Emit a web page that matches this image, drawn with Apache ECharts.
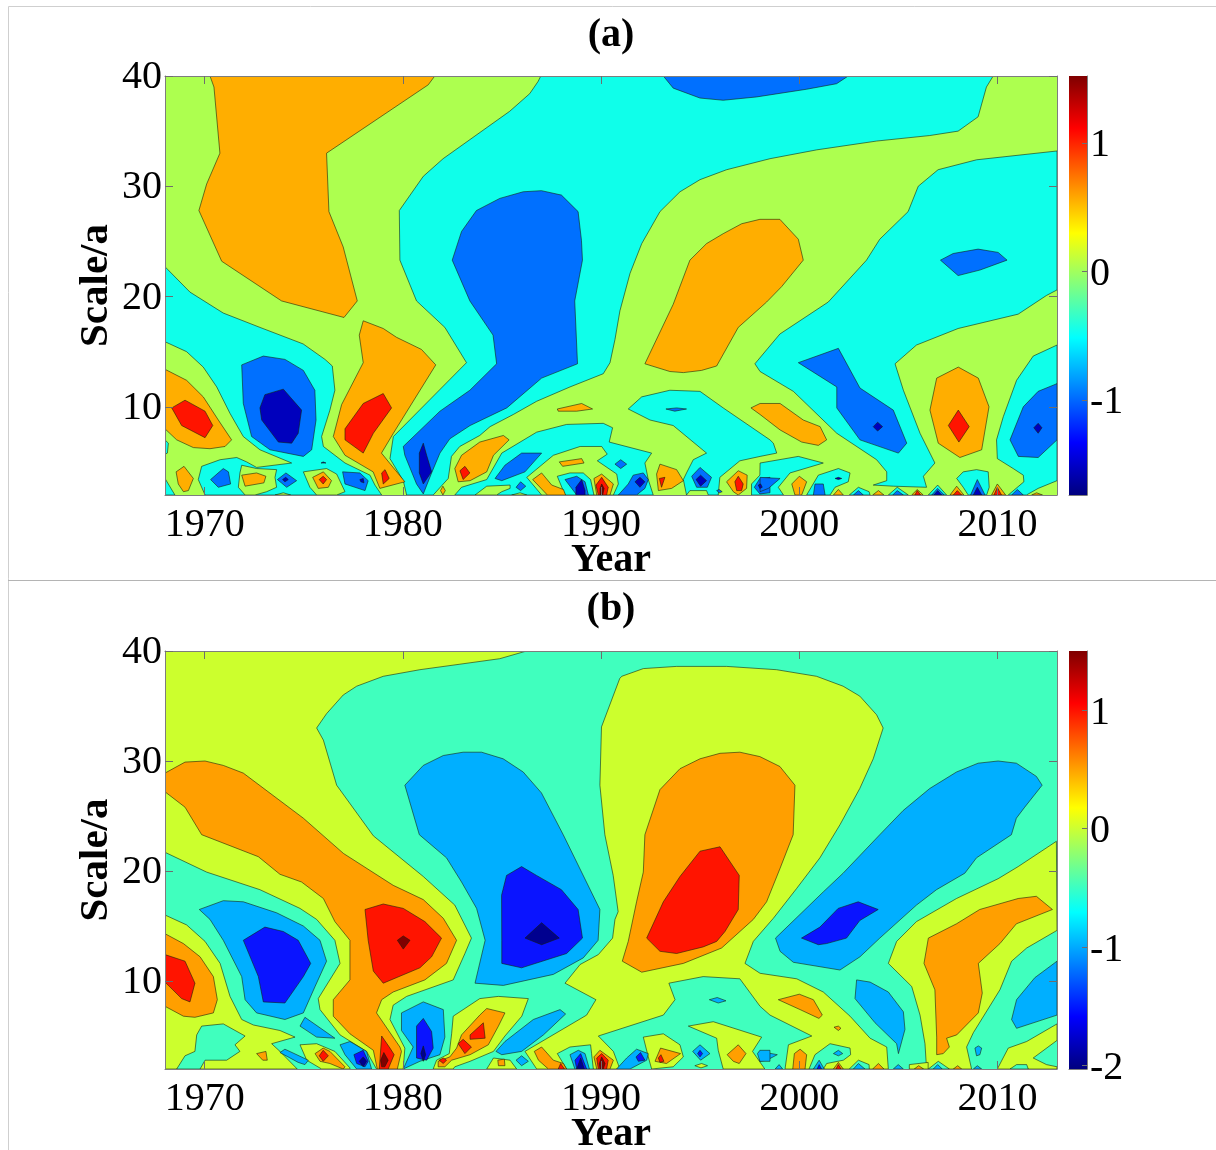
<!DOCTYPE html>
<html><head><meta charset="utf-8">
<style>html,body{margin:0;padding:0;background:#fff}#c{width:1216px;height:1150px}</style>
<script src="https://cdn.jsdelivr.net/npm/echarts@6/dist/echarts.min.js"></script>
</head><body><div id="c"></div>
<script>
// Axis facts
const yearRange = [1968, 2013];
const scaleRange = [2, 40];
const yearTicks = [1970, 1980, 1990, 2000, 2010];
const scaleTicks = [10, 20, 30, 40];
const barRangeA = [-1.74, 1.52];
const barRangeB = [-2.03, 1.5];
const barTicksA = [-1, 0, 1];
const barTicksB = [-2, -1, 0, 1];
const jetStops = [[0,'#00007f'],[0.125,'#0000ff'],[0.375,'#00ffff'],[0.625,'#ffff00'],[0.875,'#ff0000'],[1,'#7f0000']];
const frameBox = [[1968,2],[2013,2],[2013,40],[1968,40]];

// Panel (a): contour regions as [year, scale] vertices, painted back to front
const aCyan = [
[[1986.96,40],[2009.78,40],[2009.44,39],[2009.02,36.3],[2008.01,35],[2006.58,34.6],[2003.9,34.1],[2000.87,33.3],[1998.52,32.5],[1996.33,31.5],[1994.99,30.6],[1993.98,29.5],[1992.97,27.7],[1992.05,24.8],[1991.46,22.1],[1990.95,18.7],[1990.7,16.1],[1990.45,14],[1990.11,13],[1988.43,11.8],[1986.75,10.5],[1985.57,9.3],[1984.4,8.2],[1983.88,7.4],[1982.87,6.4],[1982.45,5.5],[1982.29,3.5],[1981.53,2],[1980.19,2],[1980.02,3.3],[1979.35,5.3],[1979.52,7.3],[1983.21,14],[1982.12,17.2],[1980.69,19.6],[1979.85,23.3],[1979.82,27.8],[1981.03,30.9],[1982.03,32.5],[1985.39,36.8],[1986.4,38.4],[1986.82,39.5]],
[[2013,33.2],[2008.94,32.4],[2007,31.5],[2006,30],[2005.49,27.7],[2004.06,25.2],[2003.39,23.3],[2001.46,19.5],[1999.02,16.6],[1997.76,13.9],[1998.02,13.2],[1999.7,11.4],[2001.89,7.6],[2003.9,5.2],[2004.41,4.1],[2004.41,3.3],[2003.73,2.9],[2004.74,2.8],[2006.42,2.7],[2006.26,3.7],[2006.84,4.9],[2006.09,7.6],[2005.25,11.5],[2004.83,13.9],[2005.91,15.6],[2008.01,17.1],[2011.04,18.4],[2012.47,20.1],[2013,20.6]],
[[2013,15.6],[2011.8,14.6],[2010.96,12.4],[2010.29,9.1],[2009.95,7],[2009.99,5.3],[2010.79,4.4],[2011.3,3.8],[2011.33,3.2],[2010.54,2],[2011.46,2],[2012.05,2.6],[2013,3.3]],
[[1968,22.7],[1969.26,20.4],[1970.94,18.5],[1972.79,17.2],[1974.97,15.7],[1976.07,14.3],[1976.44,13.7],[1976.57,11.5],[1976.32,9.7],[1975.9,7.3],[1975.99,6.4],[1977.08,4.9],[1978.34,3.8],[1978.59,2.9],[1978.93,2],[1970.02,2],[1969.68,3.4],[1969.85,4.6],[1970.78,5.2],[1971.62,5.4],[1972.12,5],[1972.62,4.5],[1974.39,4.9],[1972.79,6.1],[1971.95,7.3],[1971.28,9.4],[1970.61,11.8],[1969.93,13.6],[1969.09,15],[1968,15.9]],
[[1968,3.5],[1968.5,2],[1968,2]],
[[1968,7],[1968.17,6.7],[1968.12,5.8],[1968,5.7]],
[[1982.62,2],[1982.96,2.7],[1984.23,3.4],[1984.99,5.8],[1986.75,7.7],[1988.26,8.4],[1990.11,8.5],[1990.58,8.1],[1990.41,6.8],[1992.55,5.8],[1992.21,4.9],[1992.38,3.4],[1992.63,2]],
[[1991.37,9.8],[1992.05,10.9],[1993.47,11.5],[1994.99,11.4],[1996.16,9.9],[1998.52,7],[1998.69,6.7],[1998.86,5.8],[1998.02,5.5],[1997,5.1],[1995.99,3.6],[1995.91,2],[1995.41,2],[1995.32,2.4],[1994.48,2.4],[1994.31,2],[1994.15,3.4],[1994.31,4],[1994.65,5.2],[1995.32,5.8],[1993.64,8.3],[1992.47,8.8]],
[[1997.59,3],[1998.01,3.8],[1998.02,4.9],[1999.95,5.5],[2001.21,4.9],[1999.53,4],[1998.94,2.7],[1999.2,2],[1997.59,2]],
[[2000.37,2],[2000.96,3.8],[2001.97,4.4],[2002.56,4],[2002.47,3.2],[2001.8,2.7],[2001.55,2]]
];
const aGreenIslands = [
[[1971.87,4.7],[1972.62,4.4],[1973.63,4.3],[1973.55,3.6],[1973.63,2.7],[1973.13,2.3],[1972.54,2],[1972.04,2],[1971.7,2.7],[1971.78,4]],
[[1973.55,2],[1973.97,2.2],[1974.34,2]],
[[1974.98,4.1],[1976.15,4.4],[1976.66,3.9],[1977.08,2.3],[1976.66,2],[1975.65,2],[1975.31,2.7]],
[[1986.25,3.6],[1987.59,5.6],[1988.94,6.4],[1990.03,6.4],[1990.31,5.7],[1989.81,5.1],[1990.79,3.9],[1990.87,3],[1990.62,2],[1987,2]],
[[1983.64,2],[1984.23,2.8],[1985.41,2.9],[1985.41,2.6],[1984.99,2.3],[1984.73,2]],
[[1985.49,2],[1985.91,2.2],[1986.25,2]]
];
const aCyanPatches = [
[[1987.79,3.7],[1988.43,4],[1989.1,4],[1989.47,3.4],[1989.64,2],[1988.18,2]],
[[2002.52,2],[2002.98,2.7],[2003.52,2.3],[2003.57,2]],
[[2004.49,2],[2004.94,2.7],[2005.5,2]],
[[2006.51,2],[2006.98,2.9],[2007.43,2]],
[[2007.94,3.5],[2008.27,4.1],[2008.94,4.3],[2009.53,4.1],[2009.58,2.7],[2009.45,2],[2008.52,2],[2008.27,2.7]]
];
const aOrange = [
[[1970.27,40],[1970.47,39],[1970.77,33],[1970.1,30.2],[1969.71,27.8],[1970.86,23.2],[1973.88,19.6],[1977.03,18.1],[1977.7,19.6],[1976.99,24.5],[1976.27,27.7],[1976.15,33],[1981.28,39.2],[1981.61,40]],
[[1968,13.4],[1969.09,12.4],[1969.93,10.9],[1970.69,8.8],[1971.36,7],[1971.03,6.4],[1970.27,6.2],[1969.43,6.3],[1968.59,7],[1968,8]],
[[1968.56,4.1],[1968.96,4.6],[1969.43,3.5],[1969.18,2.4],[1968.93,2.3],[1968.67,3]],
[[1971.87,3.8],[1972.62,4],[1973.09,3.7],[1972.99,3.1],[1972.04,2.8]],
[[1975.45,3.6],[1975.99,4.1],[1976.4,3.3],[1976.24,2.7],[1975.73,2.6]],
[[1981.9,2.4],[1982.02,2.8],[1982.14,2.4],[1982.02,2]],
[[1978,17.8],[1979.01,17.1],[1979.68,16.3],[1980.94,15.2],[1981.66,13.8],[1979.52,7.6],[1978.92,5.8],[1980.1,3.2],[1978.84,2.6],[1978.5,4.1],[1977.08,5.6],[1976.49,7.3],[1976.91,10.2],[1978,14],[1977.8,16.5]],
[[1982.62,4.4],[1982.96,5.6],[1983.88,6.8],[1985.07,7.4],[1985.36,7],[1984.57,5.6],[1984.23,4.1],[1983.39,3.3],[1982.79,3.2]],
[[1987.79,9.8],[1989.02,10.3],[1989.57,9.8],[1988.77,9.6],[1987.84,9.6]],
[[1987.89,5],[1989.02,5.3],[1989.14,4.9],[1988.06,4.6]],
[[1986.55,3.4],[1987,4],[1987.51,2.9],[1988.1,2.5],[1988.21,2],[1987.29,2]],
[[1989.64,3.5],[1990.03,3.9],[1990.62,3],[1990.45,2],[1989.78,2]],
[[1992.8,3.9],[1992.97,4.8],[1993.81,4.3],[1994.15,3.3],[1993.56,2.6],[1992.89,2.4]],
[[1996.33,3.2],[1996.92,4.2],[1997.37,3.8],[1997.34,2.6],[1996.92,2],[1996.67,2.3]],
[[1997.56,9.9],[1998.02,10.3],[1999.03,10.3],[2000.2,8.8],[2001.05,8.2],[2001.38,7],[2000.96,6.5],[2000.12,6.8],[1999.03,7.9],[1998.02,9.3]],
[[1992.21,13.9],[1993.64,19.3],[1994.48,23.3],[1995.32,24.8],[1996.16,25.7],[1997.09,26.6],[1998.01,27],[1999.02,27],[1999.95,25.2],[2000.2,23.3],[1999.11,20.9],[1998.35,19.5],[1996.92,17.2],[1995.83,13.7],[1995.07,13.3],[1994.15,13.1],[1993.47,13.2]],
[[1999.62,3],[2000,3.7],[2000.37,3.2],[2000.12,2],[1999.78,2]],
[[2001.72,2],[2001.97,2.5],[2002.22,2]],
[[2003.7,2],[2003.99,2.4],[2004.27,2]],
[[2005.67,2],[2005.95,2.5],[2006.25,2]],
[[2007.6,2],[2007.94,2.8],[2008.3,2]],
[[2009.7,2],[2009.99,3],[2010.41,2]],
[[2011.72,2],[2011.97,2.2],[2012.27,2]],
[[2006.59,9.7],[2006.93,12.6],[2008.02,13.6],[2009.03,12.6],[2009.57,10],[2009.2,6.1],[2008.1,5.4],[2007.01,6.7]]
];
const aRed = [
[[1968.34,9.9],[1969.01,10.6],[1970.02,9.6],[1970.41,8.3],[1970.02,7.2],[1968.84,8.3]],
[[1977.08,8],[1978,10.3],[1979.01,11.2],[1979.43,9.9],[1978.51,7.6],[1978,5.8],[1977.08,7]],
[[1978.93,4],[1979.1,4.3],[1979.31,3.5],[1979.01,3]],
[[1982.88,4.2],[1983.13,4.6],[1983.38,4],[1983.04,3.4]],
[[1989.74,2.9],[1990.03,3.6],[1990.36,2.7],[1990.28,2],[1989.86,2]],
[[1992.94,3.5],[1993.22,3.6],[1993.05,2.7]],
[[1996.75,3.2],[1996.92,3.7],[1997.17,3],[1997.09,2.4],[1996.84,2.4]],
[[2007.52,8.3],[2008.02,9.7],[2008.57,8.2],[2008.05,6.8]],
[[2005.83,2],[2005.95,2.4],[2006.12,2]],
[[2007.77,2],[2007.97,2.4],[2008.19,2]],
[[2009.82,2],[2009.99,2.7],[2010.2,2]],
[[1975.78,3.4],[1975.98,3.7],[1976.15,3.4],[1975.98,3]]
];
const aDarkRed = [
[[1989.95,2.6],[1990.03,3],[1990.15,2.6],[1990.08,2],[1989.95,2]]
];
const aBlue = [
[[1971.87,13.8],[1972.96,14.6],[1974.05,14.3],[1974.98,13.3],[1975.56,11.5],[1975.62,8.8],[1975.4,6.1],[1974.98,5.5],[1973.3,6.1],[1972.37,7.3],[1971.95,10.3]],
[[1982.49,23.3],[1982.96,25.9],[1983.71,27.8],[1984.89,28.9],[1986.07,29.5],[1986.99,29.6],[1988,29.2],[1988.84,27.7],[1989.01,25.1],[1989.06,23.3],[1988.67,19.6],[1988.81,13.9],[1987,12.6],[1985.24,9.9],[1983.39,8.3],[1982.37,7.1],[1981.87,5.8],[1981.45,4],[1981.03,2.1],[1980.69,3],[1980.1,5.6],[1980.02,6.4],[1981.87,9.6],[1983.38,11.5],[1984.73,13.9],[1984.55,16.5],[1983.38,19.6]],
[[1970.3,3.4],[1970.94,4.4],[1971.2,4.1],[1971.31,3],[1970.69,2.7]],
[[1973.67,3.4],[1974.1,4],[1974.64,3.3],[1974.14,2.7]],
[[1976.96,4.1],[1977.83,4],[1978.25,3.3],[1978.09,2.4],[1977.08,3]],
[[1984.65,3.5],[1985.15,4.7],[1985.99,5.8],[1987,5.8],[1986.16,4.1],[1984.99,3.3]],
[[1985.71,2.7],[1985.94,3.2],[1986.2,2.8],[1985.94,2.4]],
[[1990.7,4.8],[1990.99,5.2],[1991.29,4.8],[1990.99,4.4]],
[[1988.18,3.4],[1988.77,3.7],[1989.19,3.2],[1989.36,2],[1988.77,2]],
[[1990.87,2],[1991.37,3],[1991.62,3.8],[1992.13,4],[1992.38,3.4],[1992.21,2.6],[1991.79,2]],
[[1994.57,3.7],[1994.99,4.5],[1995.57,3.6],[1995.36,2.7],[1994.82,2.7]],
[[1993.27,9.8],[1993.81,9.9],[1994.31,9.8],[1993.72,9.6]],
[[1995.83,2.4],[1995.96,2.5],[1996.11,2.3],[1995.96,2.2]],
[[1997.73,2.7],[1998.01,3.5],[1998.52,3.6],[1998.52,2.2],[1998.01,2.1]],
[[1998.02,3.6],[1999.03,3.5],[1998.44,2.6],[1998.02,2.3]],
[[1999.95,14],[2001.97,15.3],[2003.06,11.7],[2004.74,9.7],[2005.42,6.7],[2005,5.8],[2003.06,7],[2001.89,9.9],[2001.89,11.8]],
[[2000.71,2],[2000.79,3],[2001.21,3],[2001.3,2]],
[[2002.73,2],[2002.98,2.4],[2003.23,2]],
[[2004.71,2],[2004.94,2.4],[2005.25,2]],
[[2006.68,2],[2006.98,2.6],[2007.31,2]],
[[2008.64,2],[2008.98,3.4],[2009.37,2]],
[[2010.71,2],[2011,2.5],[2011.3,2]],
[[2010.63,7],[2011.3,10],[2012.05,11.4],[2013,12.1],[2013,7],[2012.05,5.4],[2011.05,5.5]],
[[1993.14,40],[1993.64,38.9],[1994.99,38],[1996.16,37.8],[1997.84,38.1],[2000.37,38.8],[2001.88,39.3],[2002.47,40]],
[[2007.12,23.3],[2007.76,23.9],[2009.02,24.3],[2010.03,24],[2010.48,23.3],[2009.11,22.4],[2008.01,21.9]]
];
const aDarkBlue = [
[[1972.79,9.9],[1973.04,11.1],[1973.97,11.6],[1974.89,9.7],[1974.72,7.6],[1974.39,6.7],[1973.72,6.8],[1972.88,8.8]],
[[1981.03,6.7],[1981.2,5.6],[1981.45,4.1],[1981.03,3],[1980.83,4],[1980.83,5.8]],
[[1975.87,4.9],[1975.98,5],[1976.12,4.9]],
[[1973.93,3.4],[1974.09,3.6],[1974.22,3.4],[1974.05,3.2]],
[[1977.83,3.4],[1978,3.5],[1978.04,3.1],[1977.88,3.2]],
[[1988.73,2.7],[1989.02,3.4],[1989.19,2.4],[1989.19,2],[1988.73,2]],
[[1991.71,3.2],[1991.96,3.6],[1992.21,3.2],[1991.96,2.7]],
[[1994.79,3.4],[1995.02,3.8],[1995.32,3.3],[1995.02,2.8]],
[[1997.93,2.9],[1998.05,3],[1998.13,2.7],[1998.01,2.6]],
[[2003.73,8.2],[2003.95,8.6],[2004.2,8.2],[2003.95,7.8]],
[[2011.83,8.1],[2012.05,8.5],[2012.24,8.1],[2012.05,7.6]],
[[2001.8,3.5],[2001.97,3.6],[2002.14,3.5],[2001.97,3.4]],
[[2008.78,2],[2008.98,2.7],[2009.2,2]],
[[2006.79,2],[2006.98,2.4],[2007.18,2]]
];

// Panel (b)
const bYellow = [
[[1968,40],[1986.24,40],[1984.89,39.3],[1982.88,38.8],[1980.86,38.3],[1979.01,37.7],[1977.67,36.8],[1976.99,36],[1976.15,34.3],[1975.65,33],[1975.99,31.9],[1976.66,27.8],[1978.51,23.2],[1981.03,19.5],[1982.62,16.9],[1983.46,13.9],[1983.13,12.5],[1982.54,10.1],[1980.19,8.6],[1979.51,7.8],[1979.35,6.5],[1980.1,3.9],[1980.02,2],[1978.67,2],[1978.17,3.6],[1976.83,5.1],[1975.82,7.4],[1975.73,8.4],[1976.83,11.6],[1976.57,13.7],[1975.65,15.6],[1974.81,16.6],[1972.79,18.3],[1970.1,19.9],[1968,21.7]],
[[1968,16],[1969.09,15.1],[1970.02,13.6],[1970.78,11.6],[1971.28,8.6],[1971.87,6.5],[1972.46,6],[1973.8,5.5],[1974.56,4.9],[1973.38,4.3],[1973.8,3.6],[1974.67,2],[1968,2]],
[[1974.81,4.2],[1975.65,4.3],[1976.57,3.6],[1977.33,2.1],[1977.33,2],[1975.9,2],[1975.15,2.8]],
[[1981.53,2],[1981.7,2.8],[1982.34,3.4],[1982.46,5.2],[1982.54,6.8],[1983.88,8.4],[1984.82,8.6],[1986.33,8.4],[1986,6.8],[1985.15,5],[1984.57,3.6],[1983.39,2.7],[1982.62,2.2],[1982.54,2]],
[[1991.04,37.7],[1992.13,38.4],[1993.81,38.6],[1996.33,38.6],[1998.85,38.3],[2000.87,37.7],[2002.21,36.8],[2003.05,35.9],[2003.9,34.2],[2004.23,33],[2003.73,30.2],[2003.05,27.5],[2002.05,24.2],[2001.04,21.2],[1999.86,18.4],[1998.69,15.7],[1997.68,13.6],[1997.26,11.6],[1998.02,10.7],[1999.87,10.2],[2001.21,9],[2002.56,6.8],[2003.57,4.8],[2004.41,4],[2004.49,2],[1999.28,2],[1999.45,4.2],[2000.63,5],[1998.52,6.9],[1998.02,7.7],[1997,10.2],[1995.15,10.4],[1993.42,9.8],[1993.73,8.3],[1993.14,6.9],[1989.86,5],[1990.62,3.6],[1990.95,2],[1986.75,2],[1986.16,3.6],[1989.27,6.9],[1989.74,8.3],[1988.18,9.8],[1988.94,11.5],[1989.86,12.4],[1990.58,13.9],[1990.7,15.6],[1990.86,16.3],[1990.61,19.6],[1990.19,23.3],[1989.94,27.8],[1990.02,33.1],[1990.94,37.5]],
[[2004.49,11.6],[2004.91,13.6],[2005.91,15.4],[2007.93,17.5],[2010.03,19.3],[2011.04,20.4],[2012.97,22.7],[2013,14.6],[2011.47,13],[2010.71,11.8],[2010.12,9.2],[2008.78,5.3],[2008.44,4],[2008.69,2],[2006.42,2],[2006.34,4.3],[2006.09,6.9],[2005.67,9.5]],
[[2009.99,2],[2010.54,3.9],[2011.47,4.5],[2013,6.1],[2013,4.6],[2011.8,3],[2012.47,2.4],[2013,2.2],[2013,2]],
[[1992.13,4.9],[1993.14,5.2],[1993.98,4.2],[1994.15,3.1],[1993.64,2.2],[1992.55,2],[1992.38,3.1]],
[[1994.4,5.9],[1995.66,6.3],[1998.1,4.9],[1997.64,3.6],[1998.26,2],[1996.16,2],[1995.91,3.7],[1995.83,4.8]],
[[1994.73,2.3],[1995.07,2.5],[1995.37,2.3],[1995.04,2.1]],
[[1984.23,2],[1984.57,3],[1985.41,2.8],[1985.74,2]],
[[2005.55,2],[2005.55,2.4],[2006.5,2.6],[2006.5,2]]
];
const bTealPatches = [
[[1968.59,2],[1969.01,3.2],[1969.51,3.6],[1969.6,5.1],[1969.85,5.9],[1970.94,6.1],[1972.04,5],[1971.53,4.2],[1971.78,3.6],[1971.11,2.8],[1970.02,2.8],[1969.77,2]],
[[2010.63,2],[2010.96,2.4],[2011.47,2.4],[2011.55,2]],
[[2000.49,2],[2000.79,3.3],[2001.55,4.3],[2002.56,3.9],[2002.59,3.3],[2002.22,2.8],[2001.38,2.5],[2001.21,2]],
[[2002.52,2],[2002.98,2.8],[2003.52,2.4],[2003.53,2]],
[[2006.51,2],[2007.01,2.7],[2007.57,2]],
[[1987.79,3.4],[1988.43,4],[1989.47,4.2],[1989.52,3.4],[1989.61,2],[1988.26,2]]
];
const bSky = [
[[1969.73,16.5],[1970.94,17.3],[1971.95,17.2],[1973.63,16.2],[1974.98,15],[1975.82,13.7],[1976.15,11.8],[1975.57,9.5],[1974.98,7.1],[1974.05,6.5],[1972.62,7.1],[1972.04,8.3],[1971.87,10.4],[1970.94,13.7],[1970.27,15.6]],
[[1974.81,5.9],[1975.06,6.7],[1976.57,4.8],[1975.65,4.9]],
[[1973.8,3.5],[1974.05,3.8],[1975.23,2.8],[1975.06,2.4],[1974.72,2.6]],
[[1976.83,4.2],[1977.33,4.5],[1978.17,3.6],[1978.42,2],[1977.67,2],[1977.08,3.3]],
[[1979.93,7.1],[1981.03,8.1],[1982.04,7.4],[1982.12,4.9],[1981.87,3.3],[1980.86,2.7],[1980.02,2],[1980.52,4],[1979.93,5.5]],
[[1980.1,27.8],[1981.03,29.6],[1982.04,30.5],[1983.04,30.8],[1983.97,30.8],[1985.06,30.2],[1986.07,29],[1986.99,27.1],[1988.09,23.3],[1989.94,16.5],[1989.85,13.7],[1989.1,12.1],[1987.59,10.6],[1985.07,9.6],[1983.64,9.8],[1984.15,13.7],[1983.72,16.6],[1982.96,19],[1982.2,21.2],[1980.83,23.3]],
[[1998.8,13.9],[2001.21,18.1],[2002.21,19.8],[2004.06,23.3],[2005.24,25.5],[2006.58,27.5],[2007.93,29],[2009.02,29.8],[2010.03,30],[2010.95,29.8],[2011.96,28.6],[2012.25,27.8],[2011.37,25.8],[2010.95,24.8],[2010.7,23.3],[2008.94,21.2],[2008.35,19.8],[2006.92,18.3],[2005.91,16.9],[2004.06,13.9],[2003.06,12.2],[2002.05,11],[1999.7,11.7],[1999.03,12.7]],
[[2010.71,6.5],[2010.96,8.3],[2011.88,10.3],[2013,11.8],[2013,6.9],[2010.96,5.7]],
[[2002.81,8.4],[2002.89,10.1],[2003.57,9.9],[2004.49,9],[2005.25,7.2],[2005.33,5.6],[2005,3.4],[2004.91,4.3],[2003.82,6.2]],
[[2008.86,3.9],[2009.03,4.1],[2009.2,3.9],[2009.11,3.3],[2008.94,3.2]],
[[2001.72,3.4],[2001.97,3.7],[2002.19,3.4],[2001.97,3.2]],
[[1998.02,3.6],[1998.89,3.3],[1998.36,2.8],[1998.02,2.7]],
[[1998.78,2],[1998.98,2.4],[1999.16,2]],
[[2000.71,2],[2001,2.8],[2001.26,2]],
[[2002.73,2],[2002.98,2.5],[2003.31,2]],
[[2004.74,2],[2004.99,2.4],[2005.25,2]],
[[2006.76,2],[2006.98,2.4],[2007.21,2]],
[[2008.78,2],[2008.98,2.3],[2009.2,2]],
[[1988.43,3.3],[1988.85,3.7],[1989.19,3.4],[1989.41,2],[1988.68,2]],
[[1990.78,2],[1991.29,3],[1991.79,3.8],[1992.38,3.4],[1992.3,2.8],[1991.46,2]],
[[1994.62,3.6],[1994.99,4.2],[1995.49,3.4],[1995.02,2.8]],
[[1997.89,3.4],[1998.01,3.7],[1998.52,3.7],[1998.52,2.7],[1998.01,2.7]],
[[1995.46,8.3],[1995.86,8.5],[1996.3,8.2],[1995.91,8]],
[[1984.7,3.6],[1985.15,4.5],[1986.58,6.5],[1987.93,7.4],[1988.21,7],[1987.09,5.1],[1985.99,3.6],[1984.99,3.3]],
[[1985.71,2.8],[1985.99,3.2],[1986.33,2.7],[1985.99,2.3]]
];
const bOrange = [
[[1968,14.3],[1968.93,13.4],[1969.77,12.2],[1970.44,10.4],[1970.64,8.3],[1970.44,7.1],[1969.51,6.7],[1968.93,6.8],[1968,7.7]],
[[1968,28.9],[1969.01,29.9],[1970.02,30],[1970.94,29.6],[1971.95,28.9],[1974.98,24.8],[1977,21.6],[1979.51,18.7],[1981.03,17.4],[1982.04,15.7],[1982.71,13.7],[1982.2,11.6],[1981.11,10.1],[1979.51,9],[1978.93,8.3],[1978.67,7.1],[1979.85,4],[1979.93,3.6],[1979.72,2],[1978.71,2],[1978.51,3.7],[1977.33,5.2],[1976.49,6.8],[1976.49,8.3],[1977.33,10.1],[1977.33,13.7],[1976.57,15.4],[1975.99,17.5],[1974.89,19],[1973.8,19.7],[1972.71,21.3],[1969.85,23.3],[1969.01,25.8],[1968,27.2]],
[[1981.78,2.7],[1982.37,3.1],[1982.71,3.9],[1982.96,5.1],[1983.88,6.9],[1984.23,7.5],[1985.15,7.1],[1984.82,5.9],[1984.31,4.2],[1983.39,3.3],[1982.46,2.8],[1982.12,2.2],[1981.78,2.2]],
[[1972.62,3.4],[1973.09,3.6],[1973.16,2.8],[1972.93,2.8]],
[[1975.57,3.4],[1975.98,3.9],[1976.32,3.6],[1977.08,2.2],[1976.99,2],[1976.32,2.5],[1975.82,2.7]],
[[1992.21,23.3],[1992.97,27.4],[1993.98,29.3],[1994.99,30.2],[1996,30.7],[1997,30.8],[1998.01,30.4],[1999.02,29.5],[1999.78,27.8],[1999.69,23.3],[1999.02,20.2],[1998.35,17.2],[1997.68,15.6],[1996.08,13],[1994.15,11.6],[1992.05,10.8],[1991.07,11.8],[1991.37,13.6],[1991.79,17.2],[1992.13,19.9]],
[[2006.51,13.9],[2007.93,15.2],[2009.1,16.5],[2011.04,17.5],[2011.96,17.7],[2012.77,16.5],[2010.95,15.2],[2010.12,13.4],[2009.03,11.6],[2009.23,8.9],[2009.03,7.1],[2007.94,5.1],[2007.43,4.8],[2007.57,4],[2007.26,3.4],[2006.93,3.3],[2006.93,4.9],[2006.84,9.2],[2006.29,11.6]],
[[1998.94,8.3],[2000,8.8],[2000.71,8.3],[2001.16,6.9],[2000.99,6.6],[2000.04,7.4]],
[[2001.75,5.8],[2001.97,5.9],[2002.1,5.7],[2001.97,5.5]],
[[1999.67,2],[1999.75,3.4],[2000.04,3.8],[2000.37,3.3],[2000.29,2]],
[[2001.72,2],[2001.97,2.6],[2002.22,2]],
[[2003.7,2],[2003.99,2.5],[2004.27,2]],
[[2005.8,2],[2006.02,2.3],[2006.27,2]],
[[2007.77,2],[2007.99,2.3],[2008.19,2]],
[[1986.63,3.6],[1987,4],[1987.59,2.8],[1988.1,2.5],[1988.26,2],[1987.34,2],[1986.84,2.8]],
[[1989.64,3.1],[1989.94,3.7],[1990.62,2.8],[1990.45,2],[1989.78,2]],
[[1992.72,2.7],[1993,3.9],[1994.01,3.4],[1993.3,2.5]],
[[1996.36,3.3],[1996.92,4.2],[1997.31,3.4],[1996.97,2.5],[1996.67,2.7]],
[[1984.79,2.8],[1985.12,2.9],[1985.15,2.3],[1984.82,2.3]]
];
const bRed = [
[[1968,12.4],[1969.01,11.8],[1969.51,9.8],[1969.26,8.1],[1968.84,8.4],[1968,9.9]],
[[1978.09,16.5],[1979.01,17],[1980.02,16.6],[1981.11,15.4],[1981.95,13.9],[1981.45,12.2],[1980.86,11.2],[1979.01,9.8],[1978.51,10.9],[1978.25,13.7]],
[[1978.81,2],[1978.93,5],[1979.35,3.9],[1979.56,3.3],[1979.26,2]],
[[1983.39,5.1],[1984.06,6.2],[1984.15,4.8],[1983.39,4.7]],
[[1982.79,4.3],[1983.04,4.7],[1983.46,4],[1983.13,3.4]],
[[1981.83,2.8],[1982.04,3],[1982.2,2.8],[1982.04,2.5]],
[[1975.78,3.2],[1975.98,3.7],[1976.24,3.2],[1975.98,2.7]],
[[1993.98,19.5],[1994.99,21.8],[1996,22.2],[1996.97,19.6],[1996.92,16.5],[1996.25,14.5],[1995.83,13.6],[1995.15,13.1],[1993.81,12.5],[1992.97,12.7],[1992.3,13.9],[1993.14,17.2]],
[[2001.85,2],[2001.97,2.4],[2002.1,2]],
[[1987.84,2],[1987.96,2.5],[1988.15,2]],
[[1989.78,3],[1990.03,3.4],[1990.36,2.8],[1990.28,2],[1989.86,2]],
[[1992.89,3],[1993.02,3.3],[1993.17,2.7],[1992.97,2.6]]
];
const bDarkRed = [
[[1979.72,13.7],[1980.02,14.1],[1980.36,13.7],[1980.02,12.9]],
[[1978.88,2.8],[1979.04,3.5],[1979.26,2.8],[1979.09,2.2],[1978.93,2.2]],
[[1989.91,2.5],[1990.03,3.1],[1990.2,2.5],[1990.11,2],[1989.95,2]]
];
const bBlue = [
[[1971.95,13.7],[1973.04,14.9],[1973.97,14.5],[1974.72,13.7],[1975.35,11.6],[1974.98,10.4],[1974.05,8],[1972.96,8.1],[1972.71,10.4]],
[[1977.53,3.3],[1978,3.7],[1978.25,2.7],[1978.09,2.2],[1977.67,2.5]],
[[1980.69,5.9],[1981.03,6.6],[1981.45,5.4],[1981.53,3.9],[1981.2,2.8],[1980.69,3]],
[[1985.23,19.6],[1985.99,20.4],[1986.74,19.6],[1988,18.3],[1988.84,16.5],[1989.06,13.9],[1988.26,12.5],[1985.99,11.2],[1984.99,11.6],[1984.99,13.7],[1984.98,17.8]],
[[2000.11,13.9],[2001.04,14.9],[2001.96,16.6],[2002.97,17.2],[2003.98,16.5],[2003.05,15.5],[2002.38,13.9],[2001.37,13.4],[2000.96,13.3]],
[[1988.68,2.8],[1988.97,3.4],[1989.27,2],[1988.77,2]],
[[1991.76,3.1],[1991.99,3.5],[1992.21,2.8],[1991.88,2.7]],
[[1994.87,3.4],[1994.99,3.7],[1995.12,3.4],[1994.99,3.1]],
[[2000.9,2],[2001,2.4],[2001.12,2]]
];
const bNavy = [
[[1977.8,2.7],[1978,3.1],[1978.17,2.7],[1978,2.2]],
[[1980.91,3.4],[1981.03,4.1],[1981.15,3.3],[1981.03,2.7]],
[[1986.16,13.9],[1987,15.3],[1987.89,13.9],[1987,13.3]],
[[1988.77,2],[1988.97,3],[1989.15,2]]
];

const aColors = {ground:'#adff4f', cyan:'#0fffea', orange:'#ffae00', red:'#ff1400', darkRed:'#7f0000', blue:'#0070ff', dark:'#0000bd'};
const bColors = {ground:'#40ffbe', yellow:'#ccff2d', orange:'#ff9f00', red:'#ff1400', darkRed:'#800000', sky:'#00afff', blue:'#0a14ff', navy:'#00008f'};

const serif = '"Liberation Serif","Times New Roman",serif';
const tickGrey = '#6e6e6e';

function layer(axisIndex, polys, color, outline) {
  return {
    type: 'custom', coordinateSystem: 'cartesian2d', clip: true, silent: true,
    xAxisIndex: axisIndex, yAxisIndex: axisIndex,
    data: polys.map((p, i) => [i]),
    renderItem: (params, api) => ({
      type: 'polygon',
      shape: {points: polys[params.dataIndex].map(p => api.coord(p))},
      style: {fill: color, stroke: outline === false ? null : 'rgba(20,30,10,0.72)', lineWidth: 0.8}
    })
  };
}
function colorBar(axisIndex, range) {
  return {
    type: 'custom', coordinateSystem: 'cartesian2d', clip: true, silent: true,
    xAxisIndex: axisIndex, yAxisIndex: axisIndex,
    data: [[0]],
    renderItem: (params, api) => {
      const lo = api.coord([0, range[0]]), hi = api.coord([1, range[1]]);
      return {type: 'rect',
        shape: {x: lo[0], y: hi[1], width: hi[0] - lo[0], height: lo[1] - hi[1]},
        style: {fill: new echarts.graphic.LinearGradient(0, 1, 0, 0, jetStops.map(s => ({offset: s[0], color: s[1]})))}};
    }
  };
}
const frameLine = {show: true, onZero: false, lineStyle: {color: '#7d7d7d', width: 1}};
const inTick = values => ({show: true, inside: true, length: 8, customValues: values, lineStyle: {color: tickGrey, width: 1}});
const numLabel = values => ({show: true, customValues: values, fontFamily: serif, fontSize: 40, color: '#000', formatter: v => String(v)});

function panelAxes(gridIndex) {
  return {
    x: [
      {type: 'value', gridIndex, min: yearRange[0], max: yearRange[1], position: 'bottom', z: 5, axisLine: frameLine,
       axisTick: inTick(yearTicks), axisLabel: Object.assign(numLabel(yearTicks), {margin: 10}), splitLine: {show: false},
       name: 'Year', nameLocation: 'middle', nameGap: 46, nameMoveOverlap: false,
       nameTextStyle: {fontFamily: serif, fontSize: 40, fontWeight: 'bold', color: '#000'}},
      {type: 'value', gridIndex, min: yearRange[0], max: yearRange[1], position: 'top', z: 5, axisLine: frameLine,
       axisTick: inTick(yearTicks), axisLabel: {show: false}, splitLine: {show: false}}
    ],
    y: [
      {type: 'value', gridIndex, min: scaleRange[0], max: scaleRange[1], position: 'left', z: 5, axisLine: frameLine,
       axisTick: inTick(scaleTicks), axisLabel: Object.assign(numLabel(scaleTicks), {margin: 3, verticalAlign: 'top', lineHeight: 3}), splitLine: {show: false},
       name: 'Scale/a', nameLocation: 'middle', nameGap: 48, nameRotate: 90, nameMoveOverlap: false,
       nameTextStyle: {fontFamily: serif, fontSize: 41, fontWeight: 'bold', color: '#000'}},
      {type: 'value', gridIndex, min: scaleRange[0], max: scaleRange[1], position: 'right', z: 5, axisLine: frameLine,
       axisTick: inTick(scaleTicks), axisLabel: {show: false}, splitLine: {show: false}}
    ]
  };
}
function barAxes(gridIndex, range, ticks) {
  return {
    x: {type: 'value', gridIndex, min: 0, max: 1, position: 'bottom', z: 5, axisLine: frameLine, axisTick: {show: false}, axisLabel: {show: false}, splitLine: {show: false}},
    y: {type: 'value', gridIndex, min: range[0], max: range[1], position: 'right', z: 5, axisLine: frameLine,
        axisTick: Object.assign(inTick(ticks), {length: 5}), axisLabel: Object.assign(numLabel(ticks), {margin: 3, verticalAlign: 'top', lineHeight: 6}), splitLine: {show: false}}
  };
}
const pa = panelAxes(0), pb = panelAxes(1), ba = barAxes(2, barRangeA, barTicksA), bb = barAxes(3, barRangeB, barTicksB);

// axis index layout: 0 = (a) main, 1 = (b) main, 2 = (a) bar, 3 = (b) bar, 4/5 = mirror frames
const option = {
  animation: false,
  backgroundColor: '#fff',
  title: [
    {text: '(a)', left: 606, top: 11, textAlign: 'center', textStyle: {fontFamily: serif, fontSize: 40, fontWeight: 'bold', color: '#000'}},
    {text: '(b)', left: 606, top: 585, textAlign: 'center', textStyle: {fontFamily: serif, fontSize: 40, fontWeight: 'bold', color: '#000'}}
  ],
  grid: [
    {left: 165, top: 76, width: 892, height: 419, outerBoundsMode: 'none'},
    {left: 165, top: 651, width: 892, height: 418, outerBoundsMode: 'none'},
    {left: 1069, top: 76, width: 18, height: 419, outerBoundsMode: 'none'},
    {left: 1069, top: 651, width: 18, height: 418, outerBoundsMode: 'none'}
  ],
  xAxis: [pa.x[0], pb.x[0], ba.x, bb.x, pa.x[1], pb.x[1]],
  yAxis: [pa.y[0], pb.y[0], ba.y, bb.y, pa.y[1], pb.y[1]],
  series: [
    layer(0, [frameBox], aColors.ground, false),
    layer(0, aCyan, aColors.cyan),
    layer(0, aGreenIslands, aColors.ground),
    layer(0, aCyanPatches, aColors.cyan),
    layer(0, aOrange, aColors.orange),
    layer(0, aRed, aColors.red),
    layer(0, aDarkRed, aColors.darkRed),
    layer(0, aBlue, aColors.blue),
    layer(0, aDarkBlue, aColors.dark),
    layer(1, [frameBox], bColors.ground, false),
    layer(1, bYellow, bColors.yellow),
    layer(1, bTealPatches, bColors.ground),
    layer(1, bSky, bColors.sky),
    layer(1, bOrange, bColors.orange),
    layer(1, bRed, bColors.red),
    layer(1, bDarkRed, bColors.darkRed),
    layer(1, bBlue, bColors.blue),
    layer(1, bNavy, bColors.navy),
    colorBar(2, barRangeA),
    colorBar(3, barRangeB)
  ],
  graphic: [
    {type: 'polyline', silent: true, shape: {points: [[8.5,1150],[8.5,6.5],[1216,6.5]]}, style: {fill: null, stroke: '#cfcfcf', lineWidth: 1}},
    {type: 'line', silent: true, shape: {x1: 8, y1: 580.5, x2: 1216, y2: 580.5}, style: {stroke: '#b4b4b4', lineWidth: 1}}
  ]
};
const chart = echarts.init(document.getElementById('c'), null, {renderer: 'canvas', width: 1216, height: 1150});
chart.setOption(option);
</script></body></html>
